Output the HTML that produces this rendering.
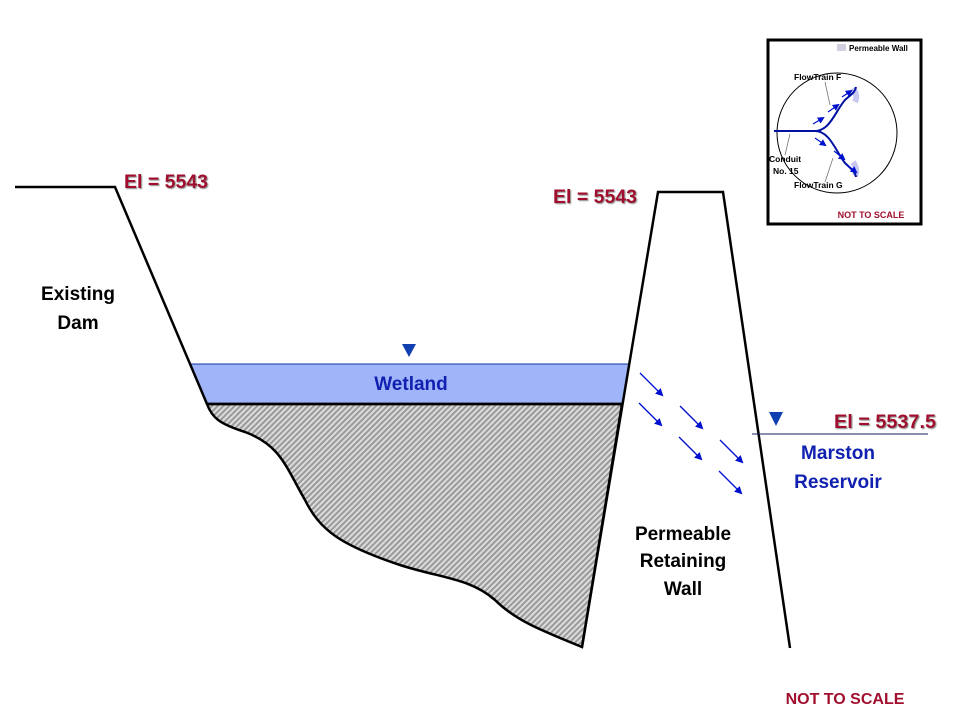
<!DOCTYPE html>
<html><head><meta charset="utf-8"><style>
html,body{margin:0;padding:0;background:#fff;width:960px;height:720px;overflow:hidden}
svg text{font-family:"Liberation Sans",Arial,sans-serif;font-weight:bold}
</style></head><body>
<svg width="960" height="720" viewBox="0 0 960 720" xmlns="http://www.w3.org/2000/svg">
<defs>
<pattern id="h" width="4" height="4" patternUnits="userSpaceOnUse" patternTransform="rotate(45)">
<rect width="4" height="4" fill="#dcdcdc"/><rect width="2" height="4" fill="#9a9a9a"/>
</pattern>
<marker id="a" markerWidth="8" markerHeight="8" refX="6" refY="4" orient="auto" markerUnits="userSpaceOnUse">
<path d="M0,0 L8,4 L0,8 Z" fill="#0010d0"/></marker>
<marker id="s" markerWidth="7" markerHeight="7" refX="5" refY="3.5" orient="auto" markerUnits="userSpaceOnUse">
<path d="M0,0 L7,3.5 L0,7 Z" fill="#0010d0"/></marker>
<filter id="sh"><feDropShadow dx="1" dy="1" stdDeviation="0.6" flood-color="#888"/></filter>
</defs>
<polygon points="190,364 629,364 622,404 207,404" fill="#a0b4fa"/>
<line x1="190" y1="364" x2="629" y2="364" stroke="#1030a0" stroke-width="1"/>
<path d="M207,404 L622,404 L582,647 C540,630 515,620 495,600 C470,578 440,578 400,565 C340,545 320,530 305,500 C285,465 280,445 245,432 C220,424 212,418 207,404 Z" fill="url(#h)" stroke="#000" stroke-width="2.5"/>
<line x1="207" y1="404" x2="622" y2="404" stroke="#000" stroke-width="2.5"/>
<polyline points="15,187 115,187 207,404" fill="none" stroke="#000" stroke-width="2.5"/>
<polyline points="582,647 658,192 723,192 790,648" fill="none" stroke="#000" stroke-width="2.5"/>
<g stroke="#0010d0" stroke-width="1.3" marker-end="url(#a)">
<line x1="640" y1="373" x2="662" y2="395"/><line x1="639" y1="403" x2="661" y2="425"/>
<line x1="680" y1="406" x2="702" y2="428"/><line x1="679" y1="437" x2="701" y2="459"/>
<line x1="720" y1="440" x2="742" y2="462"/><line x1="719" y1="471" x2="741" y2="493"/>
</g>
<line x1="752" y1="434" x2="928" y2="434" stroke="#102060" stroke-width="1"/>
<polygon points="769,412 783,412 776,426" fill="#1040b0"/>
<polygon points="402,344 416,344 409,357" fill="#1040b0"/>
<g fill="#a0102e" filter="url(#sh)" font-size="19">
<text x="124" y="188" textLength="84" lengthAdjust="spacingAndGlyphs">El = 5543</text>
<text x="553" y="203" textLength="84" lengthAdjust="spacingAndGlyphs">El = 5543</text>
<text x="834" y="428" textLength="102" lengthAdjust="spacingAndGlyphs">El = 5537.5</text>
</g>
<g fill="#000" font-size="19" text-anchor="middle">
<text x="78" y="300">Existing</text><text x="78" y="329">Dam</text>
<text x="683" y="540">Permeable</text><text x="683" y="567">Retaining</text><text x="683" y="595">Wall</text>
</g>
<g fill="#1020b0" font-size="19" text-anchor="middle">
<text x="411" y="390">Wetland</text>
<text x="838" y="459">Marston</text><text x="838" y="488">Reservoir</text>
</g>
<text x="845" y="704" fill="#a0102e" font-size="16" text-anchor="middle">NOT TO SCALE</text>
<rect x="768" y="40" width="153" height="184" fill="#fff" stroke="#000" stroke-width="3"/>
<rect x="837" y="44" width="9" height="7" fill="#d0d0e0"/>
<text x="849" y="51" font-size="8" fill="#000">Permeable Wall</text>
<circle cx="837" cy="133" r="60" fill="none" stroke="#000" stroke-width="1"/>
<path d="M853,88 c4,6 4,10 2,14 M853,162 c4,6 4,10 2,14" stroke="#c8c8f0" stroke-width="6" fill="none"/>
<path d="M774,131 L815,131 C830,131 836,110 845,100 C850,95 855,93 856,87" fill="none" stroke="#0010a0" stroke-width="2"/>
<path d="M815,131 C830,131 836,152 845,163 C850,168 855,171 856,177" fill="none" stroke="#0010a0" stroke-width="2"/>
<g stroke="#0010d0" stroke-width="1.2" marker-end="url(#s)">
<line x1="813" y1="124" x2="823" y2="118"/><line x1="828" y1="112" x2="838" y2="105"/><line x1="842" y1="97" x2="851" y2="91"/>
<line x1="815" y1="138" x2="825" y2="145"/><line x1="834" y1="151" x2="844" y2="159"/><line x1="847" y1="165" x2="856" y2="172"/>
</g>
<g stroke="#666" stroke-width="0.7"><line x1="825" y1="82" x2="830" y2="105"/><line x1="790" y1="134" x2="785" y2="155"/><line x1="833" y1="158" x2="825" y2="182"/></g>
<g font-size="8.5" fill="#000">
<text x="794" y="80">FlowTrain F</text>
<text x="769" y="162">Conduit</text><text x="773" y="174">No. 15</text>
<text x="794" y="188">FlowTrain G</text>
</g>
<text x="871" y="218" font-size="9" fill="#a0102e" text-anchor="middle">NOT TO SCALE</text>
</svg>
</body></html>
